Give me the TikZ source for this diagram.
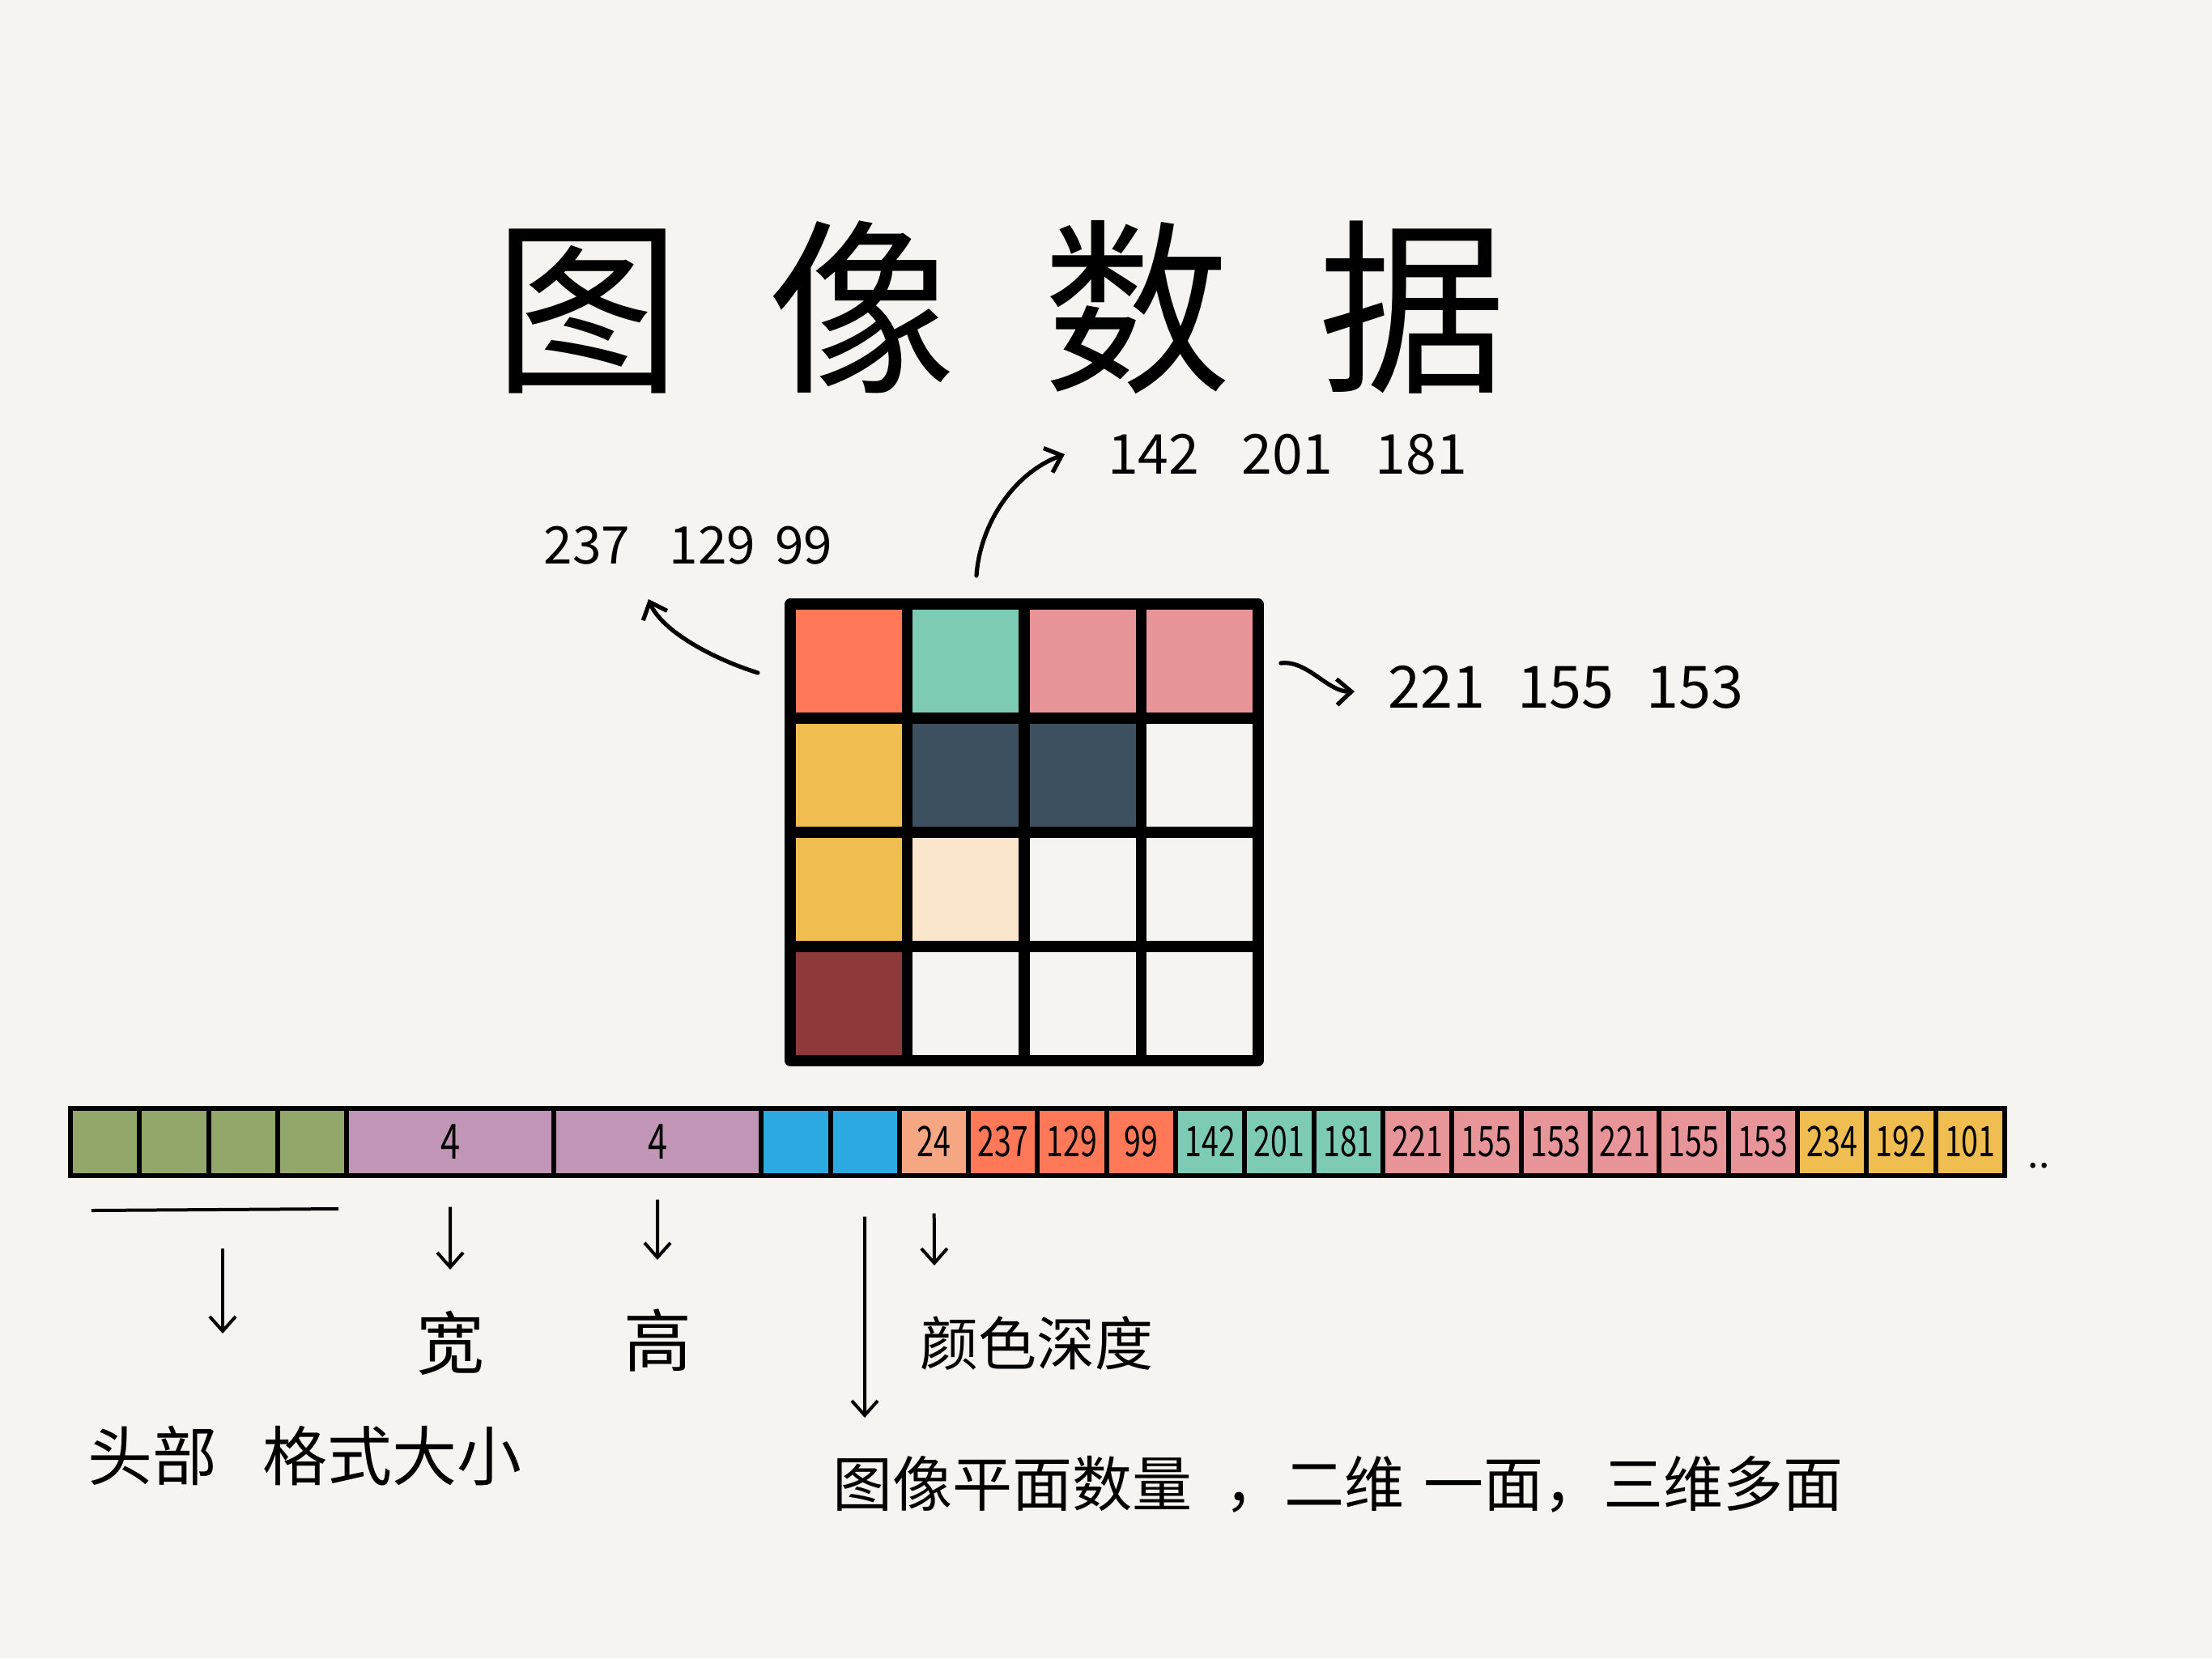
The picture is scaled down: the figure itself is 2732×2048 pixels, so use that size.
\documentclass[tikz,border=0pt]{standalone}
\usepackage{fontspec}
\usepackage{tikz}
\usetikzlibrary{arrows.meta}
\newfontfamily\hand{Noto Sans CJK SC}
\newfontfamily\handnum{Noto Sans CJK SC}[FakeStretch=0.72]
\newcommand\sizenum[1]{{\fontsize{15}{15}\selectfont #1}}

\definecolor{paper}{RGB}{245,244,240}
\definecolor{coral}{RGB}{255,121,89}
\definecolor{teal}{RGB}{125,203,180}
\definecolor{pink}{RGB}{231,149,152}
\definecolor{gold}{RGB}{240,190,80}
\definecolor{slate}{RGB}{60,80,96}
\definecolor{cream}{RGB}{251,230,203}
\definecolor{maroon}{RGB}{142,58,58}
\definecolor{olive}{RGB}{148,167,107}
\definecolor{mauve}{RGB}{193,149,182}
\definecolor{sky}{RGB}{43,169,224}
\definecolor{peach}{RGB}{245,166,131}

\tikzset{
  gcell/.style={draw=black, line width=3.3pt, line join=round, minimum width=36.1pt, minimum height=35.25pt, inner sep=0pt, outer sep=0pt},
  sbyte/.style={draw=black, line width=1.5pt, minimum height=20.75pt, inner sep=0pt, outer sep=0pt, font=\handnum\fontsize{13}{13}\selectfont},
  arr/.style={line width=1pt, -{Straight Barb[length=4.5pt,width=8pt]}},
  ptr/.style={line width=1.3pt, line cap=round, -{Straight Barb[length=4.5pt,width=8pt]}},
  lbl/.style={inner sep=0pt, font=\hand\fontsize{#1}{#1}\selectfont}
}

\begin{document}
\begin{tikzpicture}[x=0.25pt,y=0.25pt,yscale=-1]
\fill[paper] (0,0) rectangle (2732,2048);
\useasboundingbox (0,0) rectangle (2732,2048);

% Title
\node[lbl=58] (title) at (1235,380) {图\hspace{27pt}像\hspace{27pt}数\hspace{27pt}据};

% 4x4 image grid
\foreach \c [count=\k from 0] in {coral,teal,pink,pink,gold,slate,slate,paper,gold,cream,paper,paper,maroon,paper,paper,paper}{
  \pgfmathtruncatemacro{\col}{mod(\k,4)}
  \pgfmathtruncatemacro{\row}{\k/4}
  \node[gcell, fill=\c] (g\k) at ({1048.25+144.5*\col},{816.5+141*\row}) {};
}

% Text Node
\node[lbl=16] (rgbA) at (850,674) {237\hspace{12pt}129\hspace{6pt}99};
% Text Node
\node[lbl=17] (rgbB) at (1590,561) {142\hspace{13pt}201\hspace{13pt}181};
% Text Node
\node[lbl=18] (rgbC) at (1934,849) {221\hspace{10pt}155\hspace{10pt}153};

\coordinate (aS) at (936,831);
\coordinate (aE) at (801,740);
\draw[ptr] (aS) .. controls (870,810) and (815,775) .. (aE);
\coordinate (bS) at (1206,711);
\coordinate (bE) at (1315,561);
\draw[ptr] (bS) .. controls (1210,650) and (1250,585) .. (bE);
\coordinate (cS) at (1582,819);
\coordinate (cE) at (1673,854);
\draw[ptr] (cS) .. controls (1615,815) and (1640,855) .. (cE);

% byte strip
\foreach \i/\w/\c/\t in {0/1/olive/{},1/1/olive/{},2/1/olive/{},3/1/olive/{},4/3/mauve/\sizenum{4},7/3/mauve/\sizenum{4},10/1/sky/{},11/1/sky/{},12/1/peach/24,13/1/coral/237,14/1/coral/129,15/1/coral/99,16/1/teal/142,17/1/teal/201,18/1/teal/181,19/1/pink/221,20/1/pink/155,21/1/pink/153,22/1/pink/221,23/1/pink/155,24/1/pink/153,25/1/gold/234,26/1/gold/192,27/1/gold/101}{
  \node[sbyte, fill=\c, minimum width=\w*21.33pt] (s\i) at ({87+(\i+\w/2)*85.32},1410) {\t};
}
% Text Node
\node[lbl=12, anchor=base] (more) at (2518,1442) {..};

% header bracket
\coordinate (hdL) at (113,1495);
\coordinate (hdR) at (418,1493);
\draw[line width=1pt] (hdL) -- (hdR);
\coordinate (hdA) at (275,1542);
\coordinate (hdB) at (275,1647);
\draw[arr] (hdA) -- (hdB);

\coordinate (wB) at (556,1568);
\draw[arr, shorten <=9.75pt] (s4.south) -- (wB);
\coordinate (hB) at (812,1556);
\draw[arr, shorten <=7.5pt] (s7.south) -- (hB);
\coordinate (pB) at (1068,1751);
\draw[arr, shorten <=12.75pt] (s11.south) -- (pB);
\coordinate (dB) at (1154,1563);
\draw[arr, shorten <=11.75pt] (s12.south) -- (dB);

% Text Node
\node[lbl=21] (wide) at (556,1659) {宽};
% Text Node
\node[lbl=21] (high) at (812,1655) {高};
% Text Node
\node[lbl=18, anchor=west] (depth) at (1136,1659) {颜色深度};
% Text Node
\node[lbl=20, anchor=west] (head) at (108,1798) {头部\hspace{14pt}格式大小};
% Text Node
\node[lbl=18.5, anchor=west] (plane) at (1028,1833) {图像平面数量\hspace{10pt}，二维\hspace{6pt}一面，三维多面};

\end{tikzpicture}
\end{document}
